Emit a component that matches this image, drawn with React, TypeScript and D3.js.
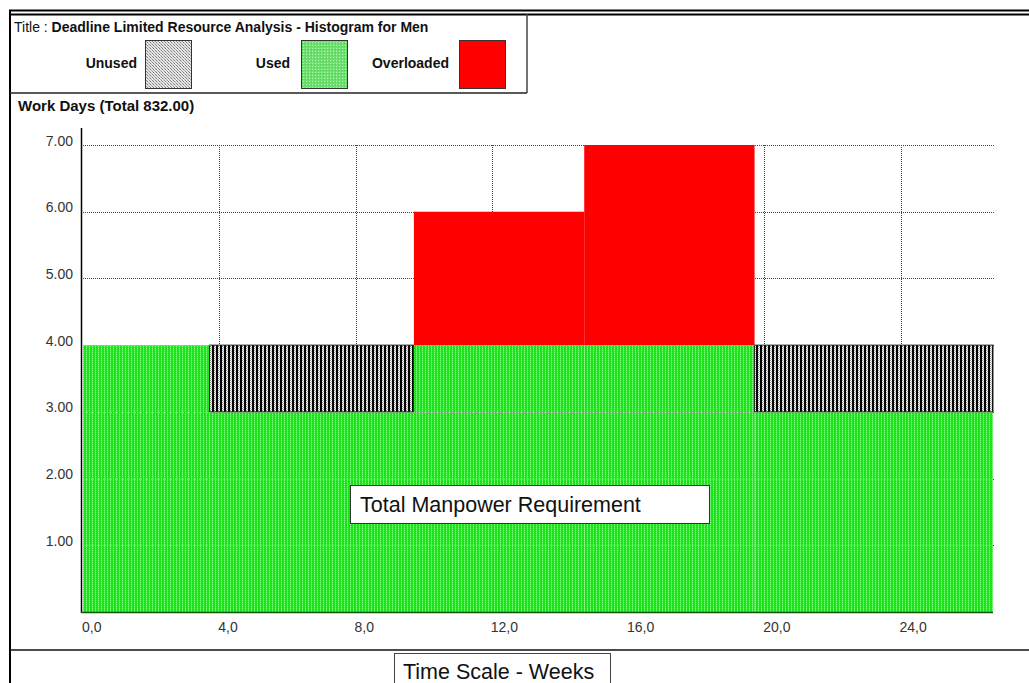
import React from "react";
import * as d3 from "d3";

// Segment boundaries in calendar days (total = 832 work days)
const segStartDays = [0, 26, 68, 103, 138];
const segEndDays = [26, 68, 103, 138, 187];
const usedValues = [4, 3, 4, 4, 3];
const unusedValues = [0, 1, 0, 0, 1];
const overloadValues = [0, 0, 2, 3, 0];
const yTicks = [1, 2, 3, 4, 5, 6, 7];
const xTicks = [0, 4, 8, 12, 16, 20, 24];
const legendItems = ["Unused", "Used", "Overloaded"];

const W = 1029;
const H = 683;
const FONT = "Arial, 'Liberation Sans', sans-serif";

export default function App() {
  const x = d3.scaleLinear().domain([0, 187 / 7]).range([83, 993]);
  const y = d3.scaleLinear().domain([0, 7]).range([612, 145]);
  const fmtY = d3.format(".2f");
  const fmtX = (v: number) => d3.format(".1f")(v).replace(".", ",");

  const segs = segStartDays.map((s, i) => ({
    x0: x(s / 7),
    x1: x(segEndDays[i] / 7),
    used: usedValues[i],
    unused: unusedValues[i],
    over: overloadValues[i],
  }));

  const legendLabelX = [137, 290, 449];
  const legendSwatchX = [145, 301, 459];
  const swatchFill = ["url(#lgUnused)", "url(#lgUsed)", "#ff0000"];

  return (
    <svg
      width={W}
      height={H}
      style={{ position: "absolute", left: 0, top: 0, background: "#fff", fontFamily: FONT }}
    >
      <defs>
        <pattern id="greenPat" width="3" height="2" patternUnits="userSpaceOnUse">
          <rect width="3" height="2" fill="#1ee21e" />
          <rect x="2" y="0" width="1" height="1" fill="#80ff80" />
          <rect x="2" y="1" width="1" height="1" fill="#44ee44" />
        </pattern>
        <pattern id="hatchPat" width="4" height="2" patternUnits="userSpaceOnUse">
          <rect width="4" height="2" fill="#ffffff" />
          <rect x="0" y="0" width="2" height="2" fill="#000" />
          <rect x="2" y="0" width="1" height="1" fill="#8a8a8a" />
          <rect x="3" y="1" width="1" height="1" fill="#b0b0b0" />
        </pattern>
        <pattern id="lgUnused" width="3" height="3" patternUnits="userSpaceOnUse">
          <rect width="3" height="3" fill="#e6e6e6" />
          <rect x="0" y="0" width="1" height="1" fill="#7a7a7a" />
          <rect x="1" y="1" width="1" height="1" fill="#aaaaaa" />
          <rect x="2" y="2" width="1" height="1" fill="#8a8a8a" />
        </pattern>
        <pattern id="lgUsed" width="3" height="3" patternUnits="userSpaceOnUse">
          <rect width="3" height="3" fill="#6fdf6f" />
          <rect x="0" y="0" width="1" height="1" fill="#b5f5b5" />
          <rect x="2" y="1" width="1" height="1" fill="#4fcf4f" />
        </pattern>
      </defs>

      {/* frame lines */}
      <line x1={9} x2={W} y1={10.5} y2={10.5} stroke="#000" strokeWidth={2} />
      <line x1={9} x2={W} y1={14.5} y2={14.5} stroke="#000" strokeWidth={2} />
      <line x1={10} x2={10} y1={10} y2={H} stroke="#000" strokeWidth={2} />
      <line x1={10} x2={527} y1={93} y2={93} stroke="#222" strokeWidth={1.5} />
      <line x1={527} x2={527} y1={14} y2={93} stroke="#444" strokeWidth={1.5} />
      <line x1={10} x2={W} y1={650} y2={650} stroke="#111" strokeWidth={1.5} />

      {/* title */}
      <text x={14} y={32} fontSize={14} fill="#111">
        Title : <tspan fontWeight="bold">Deadline Limited Resource Analysis - Histogram for Men</tspan>
      </text>

      {/* legend */}
      {legendItems.map((name, i) => (
        <g key={name}>
          <text x={legendLabelX[i]} y={68} fontSize={14} fontWeight="bold" textAnchor="end" fill="#111">
            {name}
          </text>
          <rect
            x={legendSwatchX[i] + 0.5}
            y={40.5}
            width={46}
            height={48}
            fill={swatchFill[i]}
            stroke="#333"
            strokeWidth={1}
          />
        </g>
      ))}

      <text x={18} y={111} fontSize={15} fontWeight="bold" fill="#111">
        Work Days (Total 832.00)
      </text>

      {/* grid under bars */}
      {yTicks.map((t) => (
        <line
          key={"hg" + t}
          x1={83}
          x2={995}
          y1={Math.round(y(t)) + 0.5}
          y2={Math.round(y(t)) + 0.5}
          stroke="#444"
          strokeWidth={1}
          strokeDasharray="1,1"
        />
      ))}
      {xTicks
        .filter((t) => t > 0)
        .map((t) => (
          <line
            key={"vg" + t}
            x1={Math.round(x(t)) + 0.5}
            x2={Math.round(x(t)) + 0.5}
            y1={y(7)}
            y2={y(0)}
            stroke="#444"
            strokeWidth={1}
            strokeDasharray="1,1"
          />
        ))}

      {/* bars */}
      {segs.map((s, i) => (
        <g key={"seg" + i}>
          <rect x={s.x0} y={y(s.used)} width={s.x1 - s.x0} height={y(0) - y(s.used)} fill="url(#greenPat)" />
          {s.unused > 0 && (
            <rect
              x={s.x0}
              y={y(s.used + s.unused)}
              width={s.x1 - s.x0}
              height={y(s.used) - y(s.used + s.unused)}
              fill="url(#hatchPat)"
              stroke="#222"
              strokeWidth={1}
            />
          )}
          {s.over > 0 && (
            <rect
              x={s.x0}
              y={y(s.used + s.over)}
              width={s.x1 - s.x0}
              height={y(s.used) - y(s.used + s.over)}
              fill="#ff0000"
            />
          )}
        </g>
      ))}

      {/* faint horizontal grid over the green area */}
      {yTicks.map((t) => {
        const covered = segs.filter((s) => s.used >= t);
        return covered.map((s, j) => (
          <line
            key={"hgo" + t + "-" + j}
            x1={s.x0}
            x2={s.x1}
            y1={Math.round(y(t)) + 0.5}
            y2={Math.round(y(t)) + 0.5}
            stroke="#9acb9a"
            strokeWidth={1}
            strokeDasharray="1,1"
          />
        ));
      })}

      {/* axes */}
      <line x1={81.5} x2={81.5} y1={128} y2={613} stroke="#000" strokeWidth={1.5} />
      <line x1={81} x2={993} y1={612.5} y2={612.5} stroke="#0a5a0a" strokeWidth={1.5} />

      {yTicks.map((t) => (
        <text key={"yl" + t} x={73} y={y(t) + 0.5} fontSize={14} textAnchor="end" fill="#333">
          {fmtY(t)}
        </text>
      ))}
      {xTicks.map((t) => (
        <text key={"xl" + t} x={x(t) - 1} y={632} fontSize={14} fill="#333">
          {fmtX(t)}
        </text>
      ))}

      {/* annotation boxes */}
      <rect x={350.5} y={485.5} width={359} height={38} fill="#fff" stroke="#333" strokeWidth={1} />
      <text x={360} y={512} fontSize={21.5} fill="#111">
        Total Manpower Requirement
      </text>

      <rect x={394.5} y={653.5} width={216} height={40} fill="#fff" stroke="#444" strokeWidth={1} />
      <text x={403} y={679} fontSize={21.5} fill="#111">
        Time Scale - Weeks
      </text>
    </svg>
  );
}
